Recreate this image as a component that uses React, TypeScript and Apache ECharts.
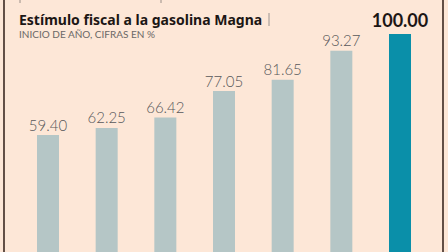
import React, { useEffect, useRef } from "react";
import * as echarts from "echarts";

const categories = ["2016", "2017", "2018", "2019", "2020", "2021", "2022"];
const values = [59.4, 62.25, 66.42, 77.05, 81.65, 93.27, 100.0];
const highlightIndex = 6;
const title = "Estímulo fiscal a la gasolina Magna";
const subtitle = "INICIO DE AÑO, CIFRAS EN %";

export default function App() {
  const ref = useRef<HTMLDivElement>(null);
  useEffect(() => {
    document.body.style.margin = "0";
    document.body.style.overflow = "hidden";
    const chart = echarts.init(ref.current!, null, { renderer: "svg" });
    chart.setOption({
      animation: false,
      backgroundColor: "#fde7d7",
      grid: { left: 18.67, right: 18.67, top: 34, bottom: 0 },
      xAxis: {
        type: "category",
        data: categories,
        axisLine: { show: false },
        axisTick: { show: false },
        axisLabel: { show: false },
      },
      yAxis: {
        type: "value",
        min: 12.4,
        max: 100,
        show: false,
        splitLine: { show: false },
      },
      graphic: [
        { type: "rect", shape: { x: 3.2, y: 0, width: 1.6, height: 252 }, style: { fill: "#3b2a22" } },
        { type: "rect", shape: { x: 442.2, y: 0, width: 1.6, height: 252 }, style: { fill: "#3b2a22" } },
        { type: "line", shape: { x1: 20, y1: 0, x2: 20, y2: 3 }, style: { stroke: "#9a8f88", lineWidth: 1 } },
        { type: "line", shape: { x1: 161, y1: 0, x2: 161, y2: 3 }, style: { stroke: "#9a8f88", lineWidth: 1 } },
        { type: "line", shape: { x1: 269, y1: 13, x2: 269, y2: 26 }, style: { stroke: "#9a9390", lineWidth: 1 } },
        {
          type: "text",
          x: 19,
          y: 12,
          style: { text: title, font: "bold 14px 'Noto Sans'", fill: "#1c1614" },
        },
        {
          type: "text",
          x: 19,
          y: 29,
          style: { text: subtitle, font: "10px Lato", fill: "#6b6866" },
        },
      ],
      series: [
        {
          type: "bar",
          barWidth: 22,
          data: values.map((v, i) => ({
            value: v,
            itemStyle: { color: i === highlightIndex ? "#0a8fa9" : "#b5c6c6" },
            label:
              i === highlightIndex
                ? { fontSize: 18, fontWeight: "bold", color: "#1c1614", distance: 5 }
                : {},
          })),
          label: {
            show: true,
            position: "top",
            distance: 3,
            fontFamily: "Lato",
            fontSize: 15,
            fontWeight: 300,
            color: "#58585a",
            formatter: (p: any) => Number(p.value).toFixed(2),
          },
        },
      ],
    });
    return () => chart.dispose();
  }, []);
  return (
    <div
      ref={ref}
      style={{ position: "fixed", left: 0, top: 0, width: 448, height: 252 }}
    />
  );
}
